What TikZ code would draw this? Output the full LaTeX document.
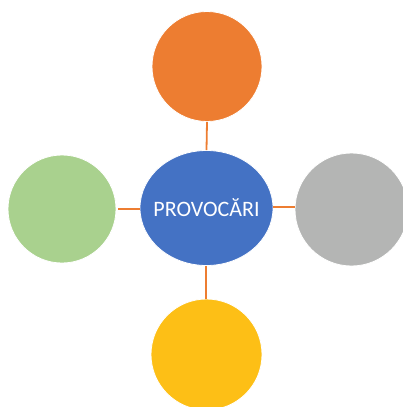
\documentclass[tikz,border=0pt]{standalone}
\usepackage{fontspec}
\setmainfont{Carlito}
\usetikzlibrary{shapes.geometric}
\definecolor{cOrange}{HTML}{ED7D31}
\definecolor{cBlue}{HTML}{4472C4}
\definecolor{cGray}{HTML}{B4B5B4}
\definecolor{cGreen}{HTML}{A9D18E}
\definecolor{cYellow}{HTML}{FDBF16}
\begin{document}
\begin{tikzpicture}[x=1pt,y=-1pt,
  ball/.style={circle,minimum size=110pt,inner sep=0pt,draw=white,line width=0.8pt},
  link/.style={draw=cOrange,line width=1.8pt}]
\useasboundingbox (0,0) rectangle (403,407);
\node[ellipse,fill=cBlue,draw=white,line width=0.8pt,minimum width=133pt,minimum height=115pt,inner sep=0pt,
  text=white,font=\fontsize{22}{24}\selectfont] (c) at (206.5,208) {\raisebox{1.5pt}{\makebox[0pt]{PROVOCĂRI}}};
\node[ball,fill=cOrange] (t) at (207,66.5) {};
\node[ball,fill=cGreen,minimum size=108pt] (l) at (62,209) {};
\node[ball,fill=cGray,minimum size=113pt] (r) at (351.5,209.5) {};
\node[ball,fill=cYellow,minimum size=111pt] (b) at (206.5,354.5) {};
\path[link] (t.south) -- (c.north);
\path[link] ([xshift=-0.5pt]c.south) -- ([xshift=-0.5pt]b.north);
\path[link] ([xshift=2pt]l.east) -- ([yshift=-1pt]c.west);
\path[link] ([yshift=1.3pt]c.east) -- ([yshift=2.8pt]r.west);
\end{tikzpicture}
\end{document}
